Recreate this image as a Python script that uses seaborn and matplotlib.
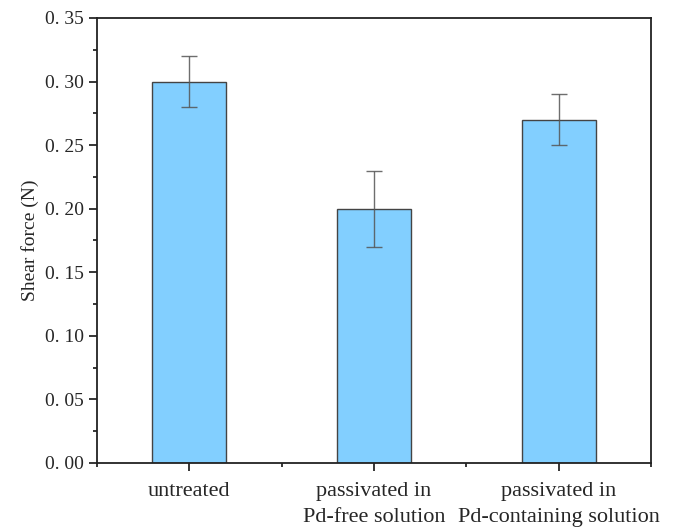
import pandas as pd
import matplotlib.pyplot as plt
import seaborn as sns
from matplotlib.ticker import MultipleLocator

groups = ["untreated", "passivated in\nPd-free solution", "passivated in\nPd-containing solution"]
force = [0.30, 0.20, 0.27]
err = [0.02, 0.03, 0.02]
yticks = [0.00, 0.05, 0.10, 0.15, 0.20, 0.25, 0.30, 0.35]
ylabels = ["0. 00", "0. 05", "0. 10", "0. 15", "0. 20", "0. 25", "0. 30", "0. 35"]

df = pd.DataFrame({"group": groups, "force": force, "err": err})

sns.set_style("ticks")
plt.rcParams["font.family"] = ["Liberation Serif", "DejaVu Serif"]

fig = plt.figure(figsize=(6.76, 5.29), dpi=100)
ax = fig.add_axes([0.1435, 0.1248, 0.8195, 0.8412])

sns.barplot(data=df, x="group", y="force", color="#82cfff", saturation=1,
            width=0.4, edgecolor="#444444", linewidth=1, ax=ax)
ax.errorbar(range(len(groups)), df["force"], yerr=df["err"], fmt="none",
            ecolor="#555555", elinewidth=1, capsize=6, capthick=1, alpha=0.85)

ax.set_xlim(-0.5, 2.5)
ax.set_ylim(0, 0.35)
ax.set_yticks(yticks)
ax.set_yticklabels(ylabels)
ax.yaxis.set_minor_locator(MultipleLocator(0.025))
ax.set_xticks([-0.5, 0.5, 1.5, 2.5], minor=True)
ax.tick_params(axis="both", which="major", direction="out", length=6, width=1.3)
ax.tick_params(axis="both", which="minor", direction="out", length=3, width=1.3)
ax.tick_params(axis="y", labelsize=14)
ax.tick_params(axis="x", pad=8, labelsize=16)
ax.set_xticks(range(len(groups)))
ax.set_xticklabels(groups, linespacing=1.45)
ax.set_xlabel("")
ax.set_ylabel("Shear force (N)", fontsize=14)
for s in ax.spines.values():
    s.set_linewidth(1.3)
    s.set_color("#222222")

fig.savefig("out.png", dpi=100)
